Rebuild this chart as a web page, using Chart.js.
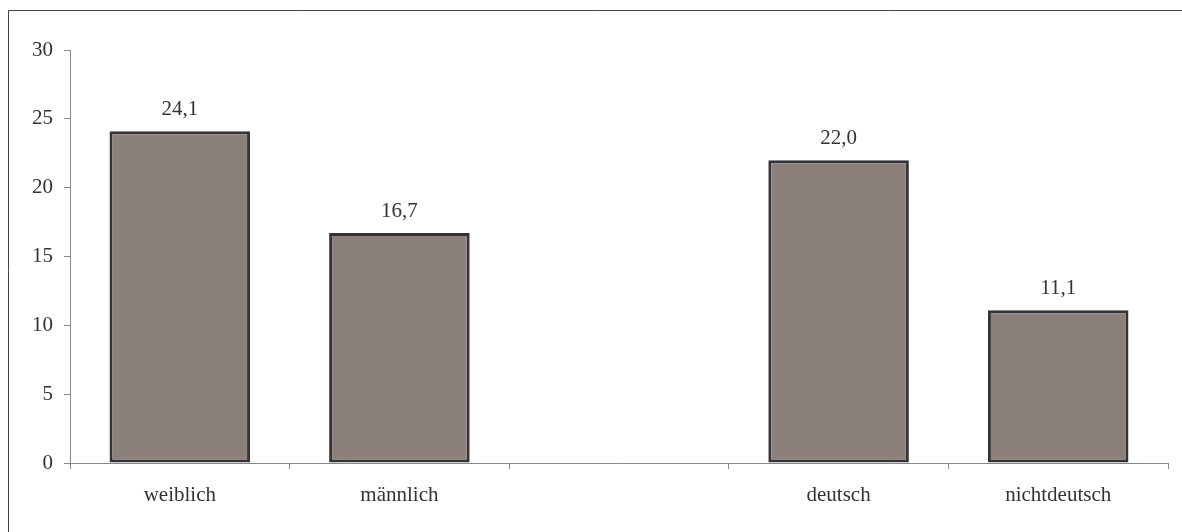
<!DOCTYPE html>
<html>
<head>
<meta charset="utf-8">
<script src="https://cdn.jsdelivr.net/npm/chart.js@4/dist/chart.umd.min.js"></script>
<style>
  html, body { margin: 0; padding: 0; background: #fff; }
  #wrap { width: 1182px; height: 532px; position: relative; }
</style>
</head>
<body>
<div id="wrap"><canvas id="chart" width="1182" height="532"></canvas></div>
<script>
// categories (the empty one is the gap between the two groups)
const categories = ['weiblich', 'männlich', '', 'deutsch', 'nichtdeutsch'];
const values = [24.1, 16.7, null, 22.0, 11.1];
const yTicks = [0, 5, 10, 15, 20, 25, 30];

const serif = "'Liberation Serif', 'Times New Roman', serif";

// top and left frame lines of the original picture
const framePlugin = {
    id: 'frame',
    beforeDraw(chart) {
        const ctx = chart.ctx;
        ctx.save();
        ctx.strokeStyle = '#444';
        ctx.lineWidth = 1;
        ctx.beginPath();
        ctx.moveTo(8.5, 532);
        ctx.lineTo(8.5, 10.5);
        ctx.lineTo(1182, 10.5);
        ctx.stroke();
        ctx.restore();
    }
};

// value labels above the bars, German decimal comma
const valueLabels = {
    id: 'valueLabels',
    afterDatasetsDraw(chart) {
        const ctx = chart.ctx;
        const meta = chart.getDatasetMeta(0);
        ctx.save();
        ctx.font = '21px ' + serif;
        ctx.fillStyle = '#333';
        ctx.textAlign = 'center';
        ctx.textBaseline = 'alphabetic';
        meta.data.forEach((bar, i) => {
            const v = values[i];
            if (v === null) return;
            ctx.fillText(v.toFixed(1).replace('.', ','), bar.x, bar.y - 16);
        });
        ctx.restore();
    }
};

new Chart(document.getElementById('chart'), {
    type: 'bar',
    data: {
        labels: categories,
        datasets: [{
            data: values,
            backgroundColor: '#8c807b',
            borderColor: '#333338',
            borderWidth: 3,
            borderSkipped: false,
            categoryPercentage: 1,
            barPercentage: 0.64
        }]
    },
    options: {
        responsive: false,
        animation: false,
        layout: { padding: { top: 50, right: 14, left: 0, bottom: 0 } },
        plugins: { legend: { display: false }, tooltip: { enabled: false } },
        scales: {
            x: {
                offset: true,
                grid: { offset: true, drawOnChartArea: false, drawTicks: true, tickLength: 6, color: '#888' },
                border: { color: '#888', width: 1 },
                ticks: { font: { family: serif, size: 21 }, color: '#333', padding: 14, maxRotation: 0 },
                afterFit(scale) { scale.height = 69; }
            },
            y: {
                min: 0,
                max: 30,
                afterBuildTicks(scale) { scale.ticks = yTicks.map(v => ({ value: v })); },
                grid: { drawOnChartArea: false, drawTicks: true, tickLength: 6, color: '#888' },
                border: { color: '#888', width: 1 },
                ticks: { font: { family: serif, size: 21 }, color: '#333', padding: 11 },
                afterFit(scale) { scale.width = 70; }
            }
        }
    },
    plugins: [framePlugin, valueLabels]
});
</script>
</body>
</html>
